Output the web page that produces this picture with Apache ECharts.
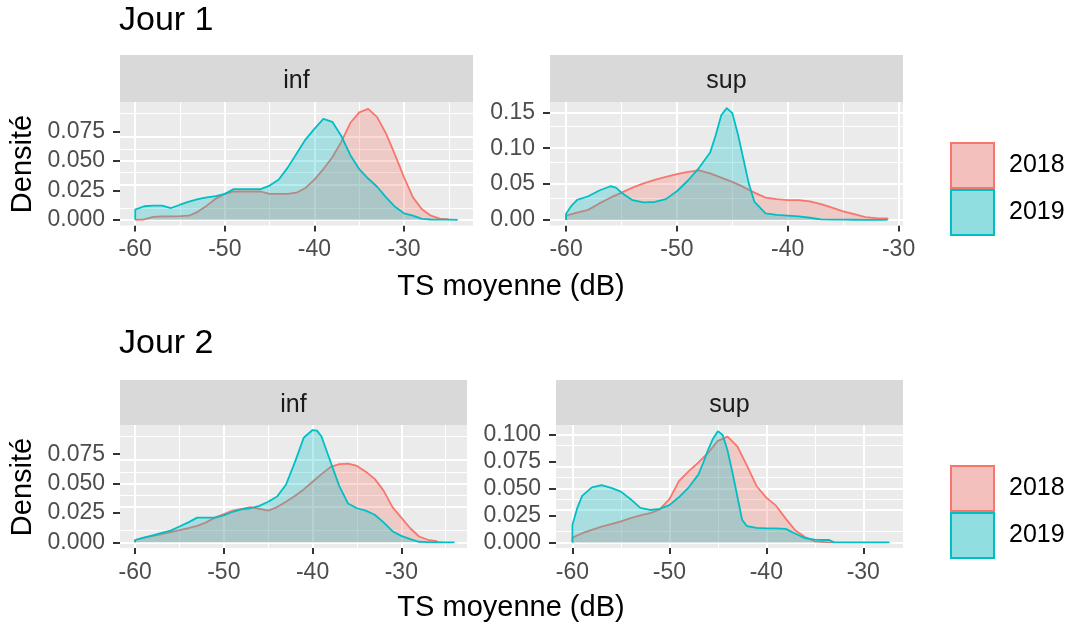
<!DOCTYPE html>
<html><head><meta charset="utf-8">
<script src="https://cdn.jsdelivr.net/npm/echarts@6/dist/echarts.min.js"></script>
<style>html,body{margin:0;padding:0;background:#fff}#c{width:1070px;height:624px}</style>
</head><body><div id="c"></div>
<script>
// ---------- data ----------
const years = ['2018', '2019'];
const facetLabels = ['inf', 'sup'];
const dayTitles = ['Jour 1', 'Jour 2'];
const xTitle = 'TS moyenne (dB)';
const yTitle = 'Densité';
const xTickValues = [-60, -50, -40, -30];
const yTicksA = [0, 0.025, 0.05, 0.075];
const yTicksB = [0, 0.05, 0.10, 0.15];
const yTicksC = [0, 0.025, 0.05, 0.075, 0.1];

// Jour 1 - inf
const j1InfX2018 = [-60,-59,-58,-57,-56,-55,-54,-53,-52,-51,-50,-49,-48,-47,-46,-45,-44,-43,-42,-41,-40,-39,-38,-37,-36,-35,-34,-33,-32,-31,-30,-29,-28,-27,-26,-25];
const j1Inf2018  = [0.0,0.0003,0.0025,0.003,0.003,0.0032,0.0035,0.007,0.012,0.018,0.022,0.024,0.024,0.024,0.024,0.022,0.022,0.022,0.023,0.027,0.034,0.043,0.053,0.066,0.082,0.091,0.094,0.087,0.073,0.055,0.036,0.019,0.009,0.0035,0.001,0.0004];
const j1InfX2019 = [-60,-59,-58,-57,-56,-55,-54,-53,-52,-51,-50,-49,-48,-47,-46,-45,-44,-43,-42,-41,-40,-39,-38,-37,-36,-35,-34,-33,-32,-31,-30,-29,-28,-27,-26,-25,-24];
const j1Inf2019  = [0.0086,0.0115,0.012,0.012,0.010,0.0128,0.0155,0.0175,0.019,0.020,0.022,0.026,0.026,0.026,0.026,0.029,0.034,0.044,0.056,0.068,0.077,0.0855,0.083,0.071,0.055,0.043,0.035,0.028,0.019,0.011,0.0055,0.0035,0.0008,0.0003,0.0002,0.0001,0.0];

// Jour 1 - sup
const j1SupX2018 = [-60,-59,-58,-57,-56,-55,-54,-53,-52,-51,-50,-49,-48,-47,-46,-45,-44,-43,-42,-41,-40,-39,-38,-37,-36,-35,-34,-33,-32,-31];
const j1Sup2018  = [0.006,0.010,0.014,0.023,0.031,0.038,0.045,0.051,0.056,0.060,0.064,0.067,0.069,0.065,0.059,0.053,0.046,0.038,0.031,0.029,0.0275,0.0275,0.026,0.022,0.017,0.012,0.008,0.004,0.0025,0.002];
const j1SupX2019 = [-60,-59.5,-59,-58,-57,-56,-55.5,-55,-54,-53,-52,-51,-50,-49,-48,-47,-46.5,-46,-45.5,-45,-44.5,-44,-43.5,-43,-42,-41,-40,-39,-38,-37,-36,-35,-34,-33,-32,-31];
const j1Sup2019  = [0.0085,0.02,0.028,0.033,0.041,0.047,0.045,0.038,0.0275,0.0245,0.025,0.029,0.040,0.055,0.0727,0.094,0.118,0.146,0.156,0.149,0.12,0.085,0.05,0.025,0.009,0.007,0.006,0.005,0.003,0.0008,0.0005,0.0003,0.0002,0.0001,0.0,0.0];

// Jour 2 - inf
const j2InfX2018 = [-60,-59,-58,-57,-56,-55,-54,-53,-52,-51,-50,-49,-48,-47,-46,-45,-44,-43,-42,-41,-40,-39,-38,-37,-36,-35,-34,-33,-32,-31,-30,-29,-28,-27,-26];
const j2Inf2018  = [0.002,0.004,0.0055,0.007,0.0088,0.0105,0.012,0.014,0.017,0.021,0.024,0.027,0.0285,0.030,0.0285,0.027,0.030,0.0345,0.0395,0.045,0.0515,0.058,0.064,0.0665,0.067,0.065,0.060,0.054,0.044,0.030,0.021,0.012,0.005,0.0022,0.001];
const j2InfX2019 = [-60,-59,-58,-57,-56,-55,-54,-53,-52,-51,-50,-49,-48,-47,-46,-45,-44,-43,-42,-41,-40,-39.5,-39,-38,-37,-36,-35,-34,-33,-32,-31,-30,-29,-28,-27,-26,-25,-24];
const j2Inf2019  = [0.002,0.004,0.006,0.008,0.010,0.0135,0.017,0.021,0.021,0.021,0.023,0.026,0.028,0.029,0.031,0.0345,0.039,0.049,0.068,0.089,0.0955,0.095,0.090,0.069,0.048,0.033,0.029,0.027,0.0235,0.017,0.0095,0.0055,0.0028,0.0005,0.0002,0.0001,0.0,0.0];

// Jour 2 - sup
const j2SupX2018 = [-60,-59,-58,-57,-56,-55,-54,-53,-52,-51,-50,-49,-48,-47,-46,-45,-44,-43,-42,-41,-40,-39,-38,-37,-36,-35,-34,-33];
const j2Sup2018  = [0.0044,0.0085,0.0115,0.0145,0.017,0.0195,0.0225,0.025,0.027,0.0305,0.040,0.057,0.066,0.074,0.083,0.094,0.098,0.089,0.071,0.052,0.0414,0.034,0.022,0.011,0.005,0.001,0.0003,0.0];
const j2SupX2019 = [-60,-59.5,-59,-58,-57,-56,-55,-54,-53,-52,-51,-50,-49,-48,-47,-46.5,-46,-45.5,-45,-44.5,-44,-43.5,-43,-42.5,-42,-41,-40,-39,-38,-37,-36,-35,-34,-33.5,-33,-32,-31,-30,-29,-28,-27.3];
const j2Sup2019  = [0.0163,0.032,0.043,0.051,0.053,0.0505,0.047,0.040,0.032,0.030,0.031,0.0345,0.042,0.051,0.063,0.074,0.086,0.096,0.103,0.0994,0.085,0.065,0.043,0.021,0.015,0.0135,0.013,0.013,0.0125,0.008,0.004,0.0025,0.0022,0.0022,0.0,0.0,0.0,0.0,0.0,0.0,0.0];

// ---------- layout / style ----------
const FONT = '"Liberation Sans", Arial, sans-serif';
const COL = {'2018': '#F8766D', '2019': '#00BFC4'};
const FILL = {'2018': 'rgba(248,118,109,0.4)', '2019': 'rgba(0,191,196,0.4)'};
const KEY = {'2018': '#F4C0BD', '2019': '#91DEE0'};

const panels = [
  {day: 0, facet: 0, grid: {left: 120, top: 102, width: 353, height: 123.5}, strip: [120, 55, 353, 47],
   xr: [-61.7, -22.3], yr: [-0.0048, 0.0998], yt: yTicksA, dec: 3,
   d: {'2018': [j1InfX2018, j1Inf2018], '2019': [j1InfX2019, j1Inf2019]}},
  {day: 0, facet: 1, grid: {left: 550, top: 102, width: 353, height: 123.5}, strip: [550, 55, 353, 47],
   xr: [-61.45, -29.6], yr: [-0.0078, 0.1645], yt: yTicksB, dec: 2,
   d: {'2018': [j1SupX2018, j1Sup2018], '2019': [j1SupX2019, j1Sup2019]}},
  {day: 1, facet: 0, grid: {left: 120, top: 425, width: 347, height: 123}, strip: [120, 380, 347, 45],
   xr: [-61.7, -22.6], yr: [-0.0048, 0.0998], yt: yTicksA, dec: 3,
   d: {'2018': [j2InfX2018, j2Inf2018], '2019': [j2InfX2019, j2Inf2019]}},
  {day: 1, facet: 1, grid: {left: 556, top: 425, width: 347, height: 123}, strip: [556, 380, 347, 45],
   xr: [-61.7, -25.9], yr: [-0.0052, 0.1087], yt: yTicksC, dec: 3,
   d: {'2018': [j2SupX2018, j2Sup2018], '2019': [j2SupX2019, j2Sup2019]}}
];

function minorOf(ticks, lo, hi) {
  const step = ticks[1] - ticks[0];
  const out = [];
  for (let i = -1; i < ticks.length; i++) {
    const v = ticks[0] + (i + 0.5) * step;
    if (v > lo && v < hi) out.push(v);
  }
  return out;
}

const grids = [], xAxes = [], yAxes = [], series = [], graphics = [];
panels.forEach((p, i) => {
  grids.push(Object.assign({show: true, backgroundColor: '#EBEBEB', borderWidth: 0}, p.grid));
  xAxes.push({
    type: 'value', gridIndex: i, min: p.xr[0], max: p.xr[1],
    axisLine: {show: false, onZero: false},
    axisTick: {show: true, length: 6, lineStyle: {color: '#333333', width: 2}, customValues: xTickValues},
    axisLabel: {customValues: xTickValues, fontSize: 23, color: '#4D4D4D', fontFamily: FONT, margin: 13},
    splitLine: {show: false}
  });
  yAxes.push({
    type: 'value', gridIndex: i, min: p.yr[0], max: p.yr[1],
    axisLine: {show: false, onZero: false},
    axisTick: {show: true, length: 7, lineStyle: {color: '#333333', width: 2}, customValues: p.yt},
    axisLabel: {customValues: p.yt, fontSize: 23, color: '#4D4D4D', fontFamily: FONT, margin: 15,
      formatter: v => Number(v).toFixed(p.dec)},
    splitLine: {show: false}
  });
  const xMin = minorOf(xTickValues, p.xr[0], p.xr[1]);
  const yMin = minorOf(p.yt, p.yr[0], p.yr[1]);
  const gl = [];
  xMin.forEach(v => gl.push({xAxis: v, lineStyle: {width: 1}}));
  yMin.forEach(v => gl.push({yAxis: v, lineStyle: {width: 1}}));
  xTickValues.forEach(v => { if (v > p.xr[0] && v < p.xr[1]) gl.push({xAxis: v, lineStyle: {width: 2}}); });
  p.yt.forEach(v => { if (v > p.yr[0] && v < p.yr[1]) gl.push({yAxis: v, lineStyle: {width: 2}}); });
  years.forEach((y, k) => {
    const xs = p.d[y][0], ys = p.d[y][1];
    const pts = [[xs[0], 0]].concat(xs.map((x, j) => [x, ys[j]]), [[xs[xs.length - 1], 0]]);
    const s = {
      name: y, type: 'line', xAxisIndex: i, yAxisIndex: i, data: pts,
      showSymbol: false, symbol: 'none', smooth: false, z: 2 + k,
      lineStyle: {color: COL[y], width: 1.8},
      itemStyle: {color: COL[y]},
      areaStyle: {color: FILL[y], origin: 0},
      emphasis: {disabled: true}, animation: false, silent: true
    };
    if (k === 0) {
      s.markLine = {silent: true, symbol: ['none', 'none'], label: {show: false}, z: 1,
        lineStyle: {color: '#FFFFFF', type: 'solid'}, emphasis: {disabled: true}, animation: false, data: gl};
    }
    series.push(s);
  });
  // strip
  graphics.push({type: 'rect', shape: {x: p.strip[0], y: p.strip[1], width: p.strip[2], height: p.strip[3]},
    style: {fill: '#D9D9D9'}, silent: true, z: 0});
  graphics.push({type: 'text', x: p.strip[0] + p.strip[2] / 2, y: p.strip[1] + p.strip[3] / 2 + 3,
    style: {text: facetLabels[p.facet], font: '25px ' + FONT, fill: '#1A1A1A', align: 'center', verticalAlign: 'middle'}, silent: true, z: 1});
});

// axis titles
[{x: 511, y: 287}, {x: 511, y: 608}].forEach(t => graphics.push({type: 'text', x: t.x, y: t.y,
  style: {text: xTitle, font: '29px ' + FONT, fill: '#000', align: 'center', verticalAlign: 'middle'}, silent: true}));
[{x: 23, y: 164}, {x: 23, y: 487}].forEach(t => graphics.push({type: 'text', x: t.x, y: t.y, rotation: Math.PI / 2,
  style: {text: yTitle, font: '29px ' + FONT, fill: '#000', align: 'center', verticalAlign: 'middle'}, silent: true}));

const legendBase = {
  orient: 'vertical', left: 950, itemWidth: 43, itemHeight: 45, itemGap: 0, icon: 'rect',
  selectedMode: false, padding: 0,
  textStyle: {fontSize: 25, color: '#000', fontFamily: FONT, padding: [0, 0, 0, 10]},
  data: years.map(y => ({name: y, itemStyle: {color: KEY[y], borderColor: COL[y], borderWidth: 2}}))
};

const option = {
  animation: false,
  backgroundColor: '#FFFFFF',
  title: [
    {text: dayTitles[0], left: 119, top: 4, padding: 0, textStyle: {fontSize: 34, fontWeight: 'normal', color: '#000', fontFamily: FONT}},
    {text: dayTitles[1], left: 119, top: 327, padding: 0, textStyle: {fontSize: 34, fontWeight: 'normal', color: '#000', fontFamily: FONT}}
  ],
  legend: [Object.assign({top: 142}, legendBase), Object.assign({top: 465}, legendBase)],
  grid: grids, xAxis: xAxes, yAxis: yAxes, series: series,
  graphic: graphics
};

const chart = echarts.init(document.getElementById('c'), null, {renderer: 'canvas'});
chart.setOption(option);
</script></body></html>
